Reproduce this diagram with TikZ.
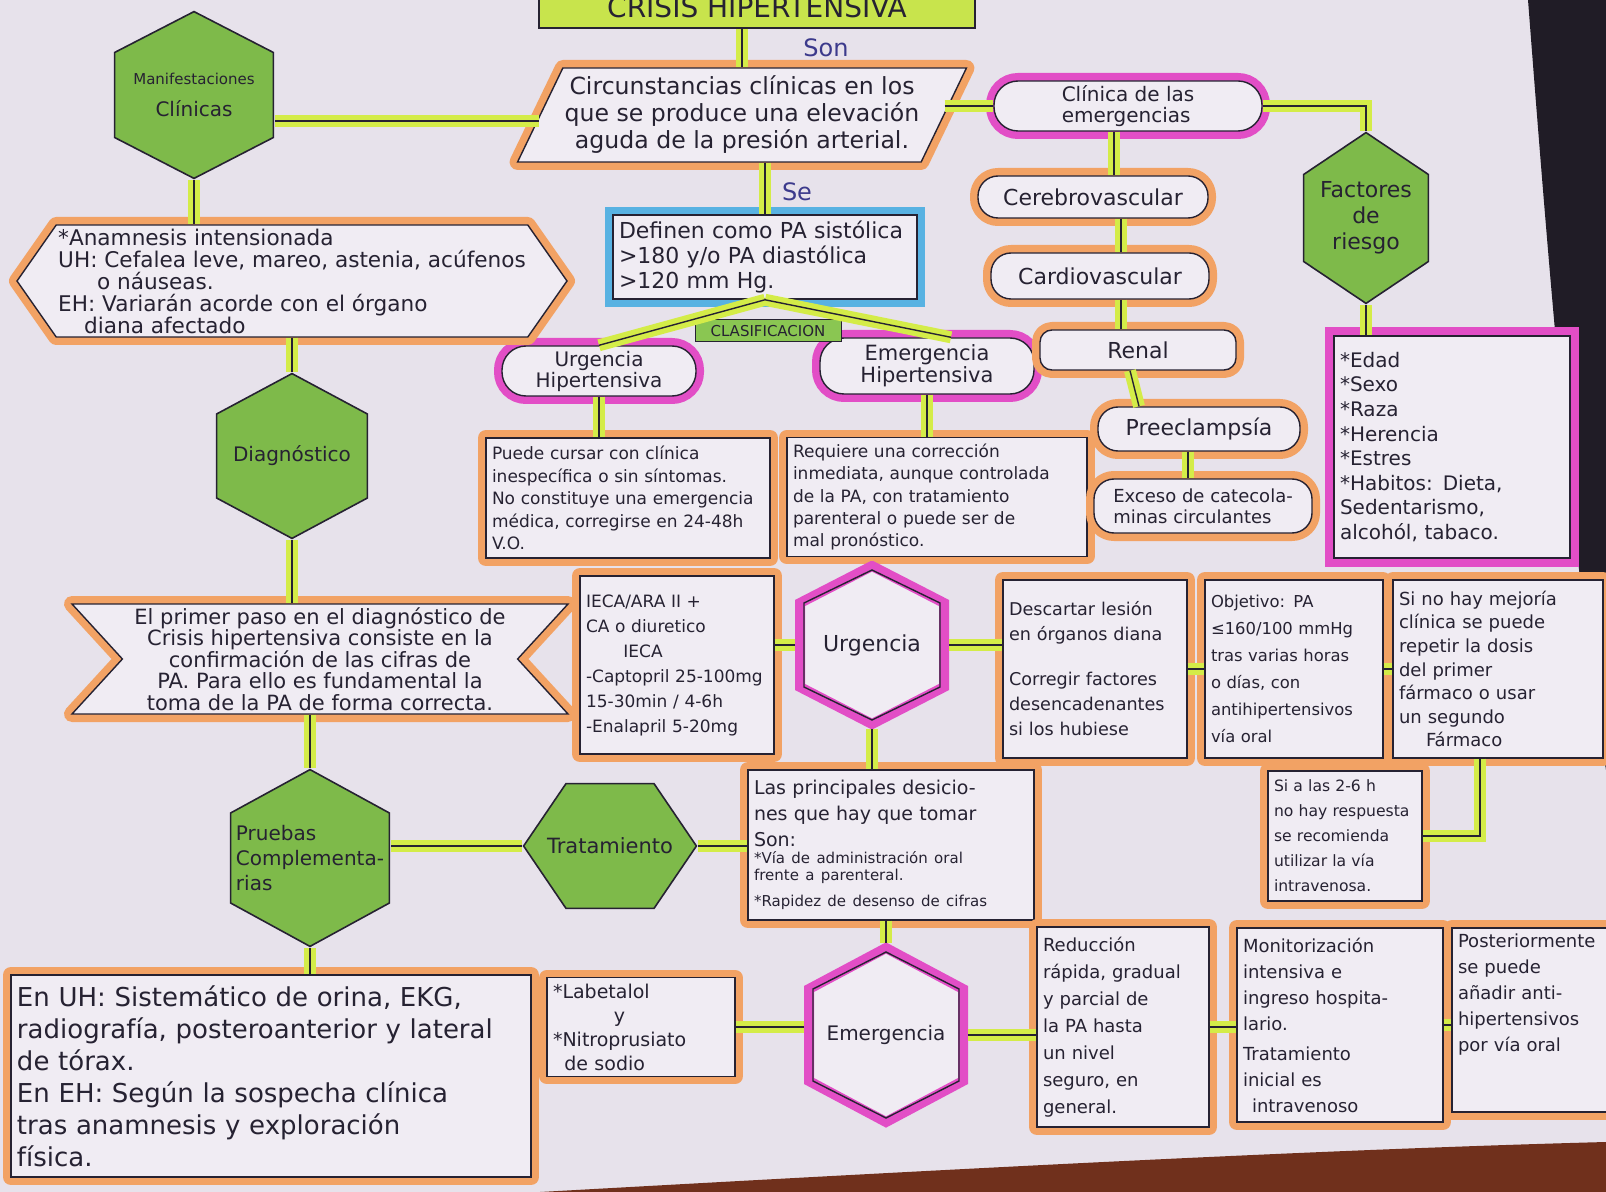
\documentclass[tikz,border=0pt]{standalone}
\usepackage{fontspec}
\setmainfont{DejaVu Sans}
\usepackage{tikz}
\usetikzlibrary{calc,positioning,shapes.geometric,shapes.symbols}
\definecolor{paper}{RGB}{231,226,235}
\definecolor{boxpaper}{RGB}{240,236,243}
\definecolor{ink}{RGB}{38,34,50}
\definecolor{penblue}{RGB}{60,58,140}
\definecolor{hllime}{RGB}{212,236,72}
\definecolor{hlorange}{RGB}{242,162,100}
\definecolor{hlpink}{RGB}{226,78,198}
\definecolor{hlblue}{RGB}{88,178,226}
\definecolor{hexgreen}{RGB}{126,186,74}
\definecolor{titlelime}{RGB}{200,228,76}
\definecolor{clasgreen}{RGB}{138,198,82}
\definecolor{tabledark}{RGB}{32,28,38}
\definecolor{tablebrown}{RGB}{112,48,28}
\newcommand{\hand}[2]{\fontsize{#1}{#2}\selectfont}
% hexagon with a point at top and bottom, drawn inside the node box
\newcommand{\hexvert}[2]{%
  \path[draw opacity=1,#2] ($(path picture bounding box.north)+(0,-#1)$)
    -- ($(path picture bounding box.north east)!.25!(path picture bounding box.south east)+(-#1,0)$)
    -- ($(path picture bounding box.north east)!.75!(path picture bounding box.south east)+(-#1,0)$)
    -- ($(path picture bounding box.south)+(0,#1)$)
    -- ($(path picture bounding box.north west)!.75!(path picture bounding box.south west)+(#1,0)$)
    -- ($(path picture bounding box.north west)!.25!(path picture bounding box.south west)+(#1,0)$)
    -- cycle;}
% hexagon with a point at left and right
\newcommand{\hexhoriz}[2]{%
  \path[draw opacity=1,#2] ($(path picture bounding box.west)+(#1,0)$)
    -- ($(path picture bounding box.north west)!.25!(path picture bounding box.north east)+(0,-#1)$)
    -- ($(path picture bounding box.north west)!.75!(path picture bounding box.north east)+(0,-#1)$)
    -- ($(path picture bounding box.east)+(-#1,0)$)
    -- ($(path picture bounding box.south west)!.75!(path picture bounding box.south east)+(0,#1)$)
    -- ($(path picture bounding box.south west)!.25!(path picture bounding box.south east)+(0,#1)$)
    -- cycle;}
\tikzset{
  link/.style={draw=ink,line width=0.7pt,
    preaction={draw=hllime,line width=6pt}},
  orangebox/.style={draw=ink,line width=0.7pt,fill=boxpaper,
    preaction={draw=hlorange,line width=8pt,line join=round},
    align=left,inner sep=3pt,text=ink},
  orangepill/.style={orangebox,rounded corners=10pt,align=center},
  pinkpill/.style={draw=ink,line width=0.7pt,fill=boxpaper,rounded corners=12pt,
    preaction={draw=hlpink,line width=8pt},
    align=center,inner sep=2pt,text=ink},
  pinkbox/.style={draw=ink,line width=0.7pt,fill=boxpaper,
    preaction={draw=hlpink,line width=9pt},
    align=left,inner sep=3pt,text=ink},
  bluebox/.style={draw=ink,line width=0.7pt,fill=boxpaper,
    preaction={draw=hlblue,line width=8pt},
    align=left,inner sep=3pt,text=ink},
  greenhex/.style={draw,draw opacity=0,align=center,inner sep=2pt,text=ink,
    path picture={\hexvert{0.8pt}{fill=hexgreen,draw=ink,line width=0.8pt}}},
  greenhexside/.style={draw,draw opacity=0,align=center,inner sep=2pt,text=ink,
    path picture={\hexhoriz{0.8pt}{fill=hexgreen,draw=ink,line width=0.8pt}}},
  pinkhex/.style={draw,draw opacity=0,align=center,inner sep=2pt,text=ink,
    path picture={\hexvert{2.5pt}{fill=boxpaper,draw=hlpink,line width=5pt}
      \hexvert{4.5pt}{draw=ink,line width=0.7pt}}},
  titlebox/.style={draw=ink,line width=0.8pt,fill=titlelime,text=ink},
  clasbox/.style={draw=ink,line width=0.5pt,fill=clasgreen,text=ink,inner sep=1pt},
  penlabel/.style={text=penblue,font=\hand{12}{14}}
}
\begin{document}
\begin{tikzpicture}[x=0.5pt,y=-0.5pt]
  \useasboundingbox (0,0) rectangle (1606,1192);
  \clip (0,0) rectangle (1606,1192);
  \fill[paper] (0,0) rectangle (1606,1192);
  \fill[tabledark] (1528,0) .. controls (1548,260) and (1572,560) .. (1606,770) -- (1606,0) -- cycle;
  \fill[tablebrown] (540,1192) .. controls (900,1172) and (1300,1150) .. (1606,1142) -- (1606,1192) -- cycle;

  % centre column
  \node[titlebox,minimum width=218pt,minimum height=21pt,font=\hand{14}{16}] (title) at (757,7) {CRISIS HIPERTENSIVA};
  \node[orangebox,trapezium,trapezium left angle=61,trapezium right angle=119,trapezium stretches,
    minimum width=225pt,minimum height=47pt,inner sep=1pt,align=center,font=\hand{11.8}{13.5}]
    (circ) at (742,115) {Circunstancias clínicas en los\\que se produce una elevación\\aguda de la presión arterial.};
  \node[penlabel] (son) at (826,48) {Son};
  \node[penlabel] (se) at (797,192) {Se};
  \node[bluebox,text width=146pt,minimum height=40pt,font=\hand{11}{12.5}] (defin) at (765,257)
    {Definen como PA sistólica\\>180 y/o PA diastólica\\>120 mm Hg.};
  \node[pinkpill,minimum width=97pt,minimum height=25pt,font=\hand{10}{10.5}] (urghip) at (599,371) {Urgencia\\Hipertensiva};
  \node[pinkpill,minimum width=107pt,minimum height=28pt,font=\hand{10.5}{11}] (emerhip) at (927,366) {Emergencia\\Hipertensiva};
  \node[orangebox,text width=136pt,minimum height=60pt,font=\hand{8.5}{11.2}] (puede) at (628,498)
    {Puede cursar con clínica\\inespecífica o sin síntomas.\\No constituye una emergencia\\médica, corregirse en 24-48h\\V.O.};
  \node[orangebox,text width=144pt,minimum height=59pt,font=\hand{8.5}{11.2}] (req) at (937,497)
    {Requiere una corrección\\inmediata, aunque controlada\\de la PA, con tratamiento\\parenteral o puede ser de\\mal pronóstico.};

  % right column
  \node[pinkpill,minimum width=134pt,minimum height=25pt,align=left,font=\hand{10}{10.5}] (clinica) at (1128,106) {Clínica de las\\emergencias};
  \node[orangepill,minimum width=115pt,minimum height=21pt,font=\hand{11}{12}] (cerebro) at (1093,197) {Cerebrovascular};
  \node[orangepill,minimum width=109pt,minimum height=23pt,font=\hand{11}{12}] (cardio) at (1100,276) {Cardiovascular};
  \node[orangepill,rounded corners=6pt,minimum width=98pt,minimum height=20pt,font=\hand{11}{12}] (renal) at (1138,350) {Renal};
  \node[orangepill,minimum width=101pt,minimum height=22pt,font=\hand{11}{12}] (preec) at (1199,429) {Preeclampsía};
  \node[orangepill,align=left,minimum width=109pt,minimum height=27pt,font=\hand{9}{10.5}] (exceso) at (1203,506) {Exceso de catecola-\\minas circulantes};
  \node[greenhex,minimum width=64pt,minimum height=87pt,font=\hand{11}{13}] (factores) at (1366,218) {Factores\\de\\riesgo};
  \node[pinkbox,text width=112pt,minimum height=111pt,font=\hand{10}{12.3}] (lista) at (1452,447)
    {{*}Edad\\{*}Sexo\\{*}Raza\\{*}Herencia\\{*}Estres\\{*}Habitos: Dieta,\\Sedentarismo,\\alcohól, tabaco.};

  % left column
  \node[greenhex,minimum width=81pt,minimum height=85pt] (manif) at (194,95)
    {\hand{7.5}{9}Manifestaciones\\[4pt]\hand{10}{12}Clínicas};
  \node[orangebox,signal,signal to=west and east,signal from=nowhere,signal pointer angle=110,
    minimum width=273pt,minimum height=56pt,inner sep=1pt,font=\hand{10.8}{11}] (anam) at (292,281)
    {{*}Anamnesis intensionada\\UH: Cefalea leve, mareo, astenia, acúfenos\\\hspace*{1.8em}o náuseas.\\EH: Variarán acorde con el órgano\\\hspace*{1.2em}diana afectado};
  \node[greenhex,minimum width=77pt,minimum height=84pt,font=\hand{10}{12}] (diag) at (292,456) {Diagnóstico};
  \node[orangebox,signal,signal from=west and east,signal to=nowhere,signal pointer angle=95,
    minimum width=248pt,minimum height=55pt,inner sep=1pt,align=center,font=\hand{10.5}{10.8}] (paso) at (320,659)
    {El primer paso en el diagnóstico de\\Crisis hipertensiva consiste en la\\confirmación de las cifras de\\PA. Para ello es fundamental la\\toma de la PA de forma correcta.};
  \node[greenhex,minimum width=81pt,minimum height=90pt,align=left,font=\hand{10}{12.5}] (pruebas) at (310,858) {Pruebas\\Complementa-\\rias};
  \node[orangebox,text width=254pt,minimum height=101pt,font=\hand{13}{16}] (uh) at (271,1076)
    {En UH: Sistemático de orina, EKG,\\radiografía, posteroanterior y lateral\\de tórax.\\En EH: Según la sospecha clínica\\tras anamnesis y exploración\\física.};

  % urgencia row
  \node[orangebox,text width=91pt,minimum height=89pt,font=\hand{8.5}{12.5}] (ieca) at (677,665)
    {IECA/ARA II +\\CA o diuretico\\\hspace*{2.2em}IECA\\-Captopril 25-100mg\\15-30min / 4-6h\\-Enalapril 5-20mg};
  \node[pinkhex,minimum width=77pt,minimum height=84pt,font=\hand{11}{13}] (urgh) at (872,645) {Urgencia};
  \node[orangebox,text width=86pt,minimum height=89pt,font=\hand{8.8}{12.5}] (desc) at (1095,669)
    {Descartar lesión\\en órganos diana\\[10pt]Corregir factores\\desencadenantes\\si los hubiese};
  \node[orangebox,text width=83pt,minimum height=89pt,font=\hand{8.2}{13.5}] (obj) at (1294,669)
    {Objetivo: PA\\≤160/100 mmHg\\tras varias horas\\o días, con\\antihipertensivos\\vía oral};
  \node[orangebox,text width=99pt,minimum height=89pt,font=\hand{9}{11.8}] (sino) at (1498,669)
    {Si no hay mejoría\\clínica se puede\\repetir la dosis\\del primer\\fármaco o usar\\un segundo\\\hspace*{1.5em}Fármaco};
  \node[orangebox,text width=71pt,minimum height=65pt,font=\hand{7.8}{12.5}] (sialas) at (1345,836)
    {Si a las 2-6 h\\no hay respuesta\\se recomienda\\utilizar la vía\\intravenosa.};

  % tratamiento row
  \node[greenhexside,minimum width=88pt,minimum height=64pt,font=\hand{10.5}{12}] (trat) at (610,846) {Tratamiento};
  \node[orangebox,text width=137pt,minimum height=75pt,font=\hand{9.5}{13}] (princ) at (891,845)
    {Las principales desicio-\\nes que hay que tomar\\Son:\\\hand{7.5}{8.5}{*}Vía de administración oral\\frente a parenteral.\\{*}Rapidez de desenso de cifras};

  % emergencia row
  \node[orangebox,text width=88pt,minimum height=48pt,font=\hand{9.5}{12}] (labet) at (641,1027)
    {{*}Labetalol\\\hspace*{3.2em}y\\{*}Nitroprusiato\\\hspace*{0.6em}de sodio};
  \node[pinkhex,minimum width=82pt,minimum height=92pt,font=\hand{10}{12}] (emerh) at (886,1035) {Emergencia};
  \node[orangebox,text width=80pt,minimum height=100pt,font=\hand{9}{13.5}] (reduc) at (1123,1027)
    {Reducción\\rápida, gradual\\y parcial de\\la PA hasta\\un nivel\\seguro, en\\general.};
  \node[orangebox,text width=97pt,minimum height=97pt,font=\hand{9}{13}] (monit) at (1340,1025)
    {Monitorización\\intensiva e\\ingreso hospita-\\lario.\\[2pt]Tratamiento\\inicial es\\\hspace*{0.5em}intravenoso};
  \node[orangebox,text width=88pt,minimum height=92pt,font=\hand{9}{13}] (poster) at (1546,1020)
    {Posteriormente\\se puede\\añadir anti-\\hipertensivos\\por vía oral\\[14pt]\mbox{}};

  \node[clasbox,minimum width=73pt,minimum height=11pt,font=\hand{7.5}{8}] (clasif) at (768,331) {CLASIFICACION};

  % connectors
  \draw[link] (title.south -| circ.north) -- (circ.north);
  \draw[link] (circ.south -| defin.north) -- (defin.north);
  \draw[link] ([yshift=-13pt]manif.east) coordinate (m1) -- (m1 -| circ.west);
  \draw[link] (clinica.west -| circ.east) -- (clinica.west);
  \draw[link] (clinica.east) -| (factores.north);
  \draw[link] (factores.south) -- (factores.south |- lista.north);
  \draw[link] ([xshift=-7pt]clinica.south) -- ([xshift=10.5pt]cerebro.north);
  \draw[link] ([xshift=14pt]cerebro.south) -- ([xshift=10.5pt]cardio.north);
  \draw[link] ([xshift=10.5pt]cardio.south) -- ([xshift=-8.5pt]renal.north);
  \draw[link] ([xshift=-4pt]renal.south) -- ([xshift=-30pt]preec.north);
  \draw[link] ([xshift=-5.5pt]preec.south) -- ([xshift=-7.5pt]exceso.north);
  \draw[link] (defin.south) -- (urghip.north);
  \draw[link] (defin.south) -- ([xshift=12pt]emerhip.north);
  \draw[link] (urghip.south) -- (urghip.south |- puede.north);
  \draw[link] (emerhip.south) -- (emerhip.south |- req.north);
  \draw[link] (manif.south) -- (manif.south |- anam.north);
  \draw[link] (anam.south -| diag.north) -- (diag.north);
  \draw[link] (diag.south) -- (diag.south |- paso.north);
  \draw[link] (paso.south -| pruebas.north) -- (pruebas.north);
  \draw[link] (pruebas.south) -- (pruebas.south |- uh.north);
  \draw[link] (trat.west -| pruebas.east) -- (trat.west);
  \draw[link] (trat.east) -- (trat.east -| princ.west);
  \draw[link] (urgh.south) -- (urgh.south |- princ.north);
  \draw[link] (princ.south -| emerh.north) -- (emerh.north);
  \draw[link] (urgh.west -| ieca.east) -- (urgh.west);
  \draw[link] (urgh.east) -- (urgh.east -| desc.west);
  \draw[link] (desc.east) -- (obj.west);
  \draw[link] (obj.east) -- (sino.west);
  \draw[link] ([xshift=-9pt]sino.south) |- (sialas.east);
  \draw[link] (labet.east) -- (labet.east -| emerh.west);
  \draw[link] (emerh.east) -- (emerh.east -| reduc.west);
  \draw[link] (reduc.east) -- (reduc.east -| monit.west);
  \draw[link] (monit.east) -- (monit.east -| poster.west);
\end{tikzpicture}
\end{document}
